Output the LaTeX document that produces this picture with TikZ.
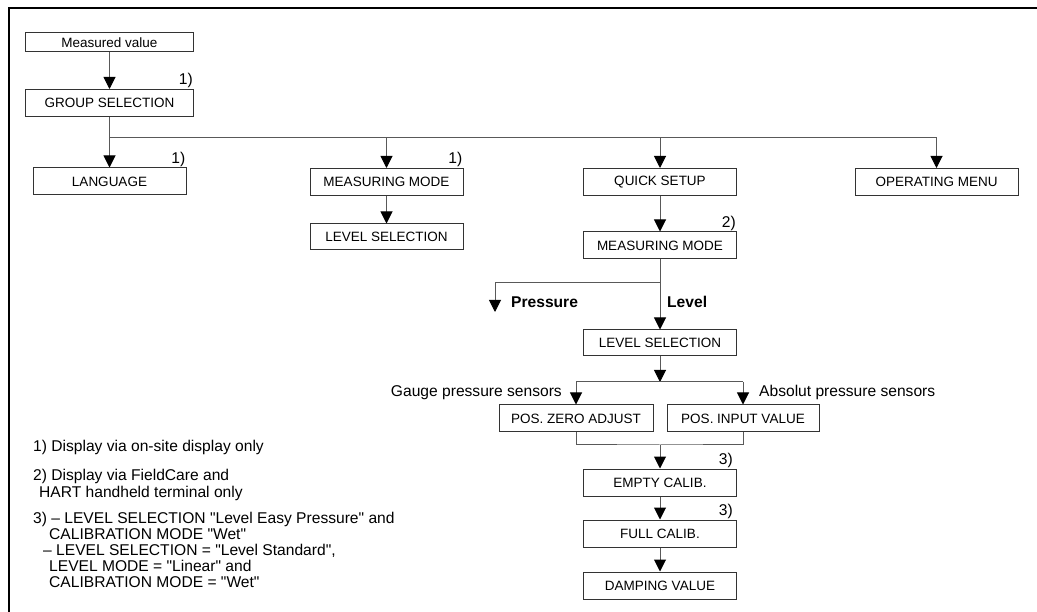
\documentclass[tikz,border=0pt]{standalone}
\usepackage{fontspec}
\setmainfont{Liberation Sans}[Ligatures=TeXOff]
\usetikzlibrary{arrows.meta}

\tikzset{
  menubox/.style={draw=black!80, line width=1pt, minimum width=153pt,
    minimum height=27pt, inner sep=0pt, font=\fontsize{13.5}{16}\selectfont},
  link/.style={draw=black!65, line width=1pt},
  flow/.style={link, -{Triangle[width=12pt,length=12pt,color=black]}},
  note/.style={inner sep=1pt, font=\fontsize{15.6}{16}\selectfont},
  remark/.style={anchor=base west, inner sep=0pt, font=\fontsize{15.6}{16}\selectfont},
}

\begin{document}
\begin{tikzpicture}[x=1pt,y=-1pt]
  \useasboundingbox (0,0) rectangle (1037,612);
  % Frame
  \draw[line width=2pt] (9,612) -- (9,8) -- (1037,8);
  % Menu boxes
  \node[menubox, minimum width=168pt, minimum height=19pt] (meas) at (109.5,42.5) {Measured value};
  \node[menubox, minimum width=168pt] (grp) at (109.5,103) {GROUP SELECTION};
  \node[menubox] (lang) at (109.5,181.5) {LANGUAGE};
  \node[menubox] (mmode) at (386.5,182) {MEASURING MODE};
  \node[menubox, minimum height=26pt] (lsel) at (386.5,237) {LEVEL SELECTION};
  \node[menubox] (qset) at (660,182) {QUICK SETUP};
  \node[menubox, minimum width=163pt] (opmenu) at (936.5,182) {OPERATING MENU};
  \node[menubox] (qmode) at (660,245.5) {MEASURING MODE};
  \node[menubox, minimum height=26pt] (qsel) at (660,343) {LEVEL SELECTION};
  \node[menubox, minimum width=154pt] (zero) at (576,418.5) {POS. ZERO ADJUST};
  \node[menubox, minimum width=152pt] (input) at (743,418.5) {POS. INPUT VALUE};
  \node[menubox] (empty) at (660,482.5) {EMPTY CALIB.};
  \node[menubox] (full) at (660,533.5) {FULL CALIB.};
  \node[menubox] (damp) at (660,585.5) {DAMPING VALUE};
  % Footnote marks
  \node[note, anchor=south east] (m1) at (grp.north east) {1)};
  \node[note, anchor=south east] (m2) at (lang.north east) {1)};
  \node[note, anchor=south east] (m3) at (mmode.north east) {1)};
  \node[note, anchor=south east] (m4) at (qmode.north east) {2)};
  \node[note, anchor=south east, xshift=-3pt] (m5) at (empty.north east) {3)};
  \node[note, anchor=south east, xshift=-3pt] (m6) at (full.north east) {3)};
  % Top level connectors
  \coordinate (bus) at (109.5,138);
  \draw[flow] (meas) -- (grp);
  \draw[flow] (grp) -- (lang);
  \draw[link] (bus) -- (opmenu.north |- bus);
  \draw[flow] (mmode.north |- bus) -- (mmode.north);
  \draw[flow] (qset.north |- bus) -- (qset.north);
  \draw[flow] (opmenu.north |- bus) -- (opmenu.north);
  \draw[flow] (mmode) -- (lsel);
  \draw[flow] (qset) -- (qmode);
  % Pressure / Level fork
  \coordinate (fork) at (660,283);
  \coordinate (pres) at (495,312);
  \draw[link] (qmode.south) -- (fork);
  \draw[flow] (fork) -- (qsel.north);
  \draw[flow] (fork) -| (pres);
  \node[note, anchor=west, font=\fontsize{15.6}{16}\selectfont\bfseries] (plab) at (510,302) {Pressure};
  \node[note, anchor=west, font=\fontsize{15.6}{16}\selectfont\bfseries] (llab) at (666,302) {Level};
  % Sensor split
  \coordinate (split) at (660,382);
  \draw[flow] (qsel.south) -- (split);
  \draw[link] (zero.north |- split) -- (input.north |- split);
  \draw[flow] (zero.north |- split) -- (zero.north);
  \draw[flow] (input.north |- split) -- (input.north);
  \node[note, anchor=east] (gauge) at (563,393) {Gauge pressure sensors};
  \node[note, anchor=west] (absol) at (758,392) {Absolut pressure sensors};
  % Calibration chain
  \coordinate (join) at (660,445);
  \draw[link] (zero.south) |- (join) -| (input.south);
  \draw[flow] (join) -- (empty.north);
  \draw[flow] (empty) -- (full);
  \draw[flow] (full) -- (damp);
  % Footnotes
  \node[remark] (f1) at (33,451) {1) Display via on-site display only};
  \node[remark] (f2a) at (33,480) {2) Display via FieldCare and};
  \node[remark] (f2b) at (39,497) {HART handheld terminal only};
  \node[remark] (f3a) at (33,523) {3) – LEVEL SELECTION "Level Easy Pressure" and};
  \node[remark] (f3b) at (49,539) {CALIBRATION MODE "Wet"};
  \node[remark] (f3c) at (43,555) {– LEVEL SELECTION = "Level Standard",};
  \node[remark] (f3d) at (49,571) {LEVEL MODE = "Linear" and};
  \node[remark] (f3e) at (49,587) {CALIBRATION MODE = "Wet"};
\end{tikzpicture}
\end{document}
